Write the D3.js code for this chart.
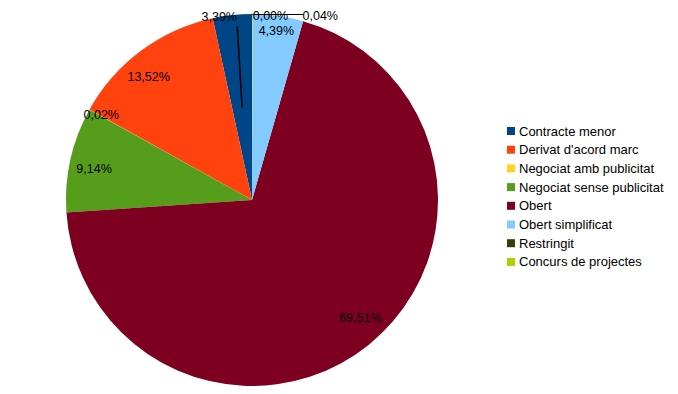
<!DOCTYPE html>
<html>
<head>
<meta charset="utf-8">
<script src="https://cdn.jsdelivr.net/npm/d3@7"></script>
<style>
  body { margin: 0; background: #fff; }
  text { font-family: "Liberation Sans", Arial, sans-serif; }
</style>
</head>
<body>
<svg id="chart" width="678" height="394"></svg>
<script>
// categories, in legend order (pie runs counterclockwise from 12 o'clock)
const categories = ["Contracte menor", "Derivat d'acord marc", "Negociat amb publicitat",
  "Negociat sense publicitat", "Obert", "Obert simplificat", "Restringit", "Concurs de projectes"];
const percents = [3.39, 13.52, 0.02, 9.14, 69.51, 4.39, 0.00, 0.04];
const labels = ["3,39%", "13,52%", "0,02%", "9,14%", "69,51%", "4,39%", "0,00%", "0,04%"];
const colors = ["#004586", "#ff420e", "#ffd320", "#579d1c", "#7e0021", "#83caff", "#314004", "#aecf00"];

const svg = d3.select("#chart");
const cx = 252, cy = 200, r = 186;

const pie = d3.pie().sort(null).startAngle(0).endAngle(-2 * Math.PI);
const arcs = pie(percents);
const arc = d3.arc().innerRadius(0).outerRadius(r);

const g = svg.append("g").attr("transform", `translate(${cx},${cy})`);

g.selectAll("path.slice")
  .data(arcs)
  .enter()
  .append("path")
  .attr("class", "slice")
  .attr("d", arc)
  .attr("fill", (d, i) => colors[i]);

function mid(d) { return (d.startAngle + d.endAngle) / 2; }
function polar(a, rad) { return [Math.sin(a) * rad, -Math.cos(a) * rad]; }

// label placement: radius factor (of r), extra offsets
const labelPos = [
  { f: 1.0, dx: -13, dy: 2 },   // 3,39% (outside, with leader line)
  { f: 0.87, dx: -7, dy: 7 },
  { f: 0.94, dx: 2, dy: 0 },
  { f: 0.87, dx: 0, dy: 4 },
  { f: 0.85, dx: 9, dy: -5 },
  { f: 0.88, dx: 1.5, dy: -7 },
  { f: 1.0, dx: 18, dy: 2 },    // 0,00%
  { f: 1.0, dx: 68, dy: 2 }     // 0,04%
];

const lp = arcs.map((d, i) => {
  const p = polar(mid(d), r * labelPos[i].f);
  return [p[0] + labelPos[i].dx, p[1] + labelPos[i].dy];
});

// leader for 3,39% : from slice centroid to label
const c0 = arc.centroid(arcs[0]);
g.append("line")
  .attr("x1", c0[0]).attr("y1", c0[1])
  .attr("x2", lp[0][0] + 18).attr("y2", lp[0][1] + 9)
  .attr("stroke", "#000").attr("stroke-width", 1.5);

// leader for the two near-zero slices at the top
const top0 = polar(mid(arcs[7]), r);
g.append("line")
  .attr("x1", top0[0]).attr("y1", Math.round(top0[1]) + 0.5)
  .attr("x2", lp[7][0] - 17).attr("y2", Math.round(top0[1]) + 0.5)
  .attr("stroke", "#000").attr("stroke-width", 1);

g.selectAll("text.lbl")
  .data(arcs)
  .enter()
  .append("text")
  .attr("class", "lbl")
  .attr("x", (d, i) => lp[i][0])
  .attr("y", (d, i) => lp[i][1])
  .attr("text-anchor", "middle")
  .attr("dominant-baseline", "central")
  .attr("font-size", 12.5)
  .attr("fill", "#000")
  .text((d, i) => labels[i]);

// legend
const legend = svg.append("g").attr("transform", "translate(507,131)");
const rowH = 18.7;
const items = legend.selectAll("g.item")
  .data(categories)
  .enter()
  .append("g")
  .attr("class", "item")
  .attr("transform", (d, i) => `translate(0,${i * rowH})`);

items.append("rect")
  .attr("x", 0).attr("y", -4)
  .attr("width", 8).attr("height", 8)
  .attr("fill", (d, i) => colors[i]);

items.append("text")
  .attr("x", 12)
  .attr("y", 0)
  .attr("dominant-baseline", "central")
  .attr("font-size", 13)
  .attr("fill", "#000")
  .text(d => d);
</script>
</body>
</html>
